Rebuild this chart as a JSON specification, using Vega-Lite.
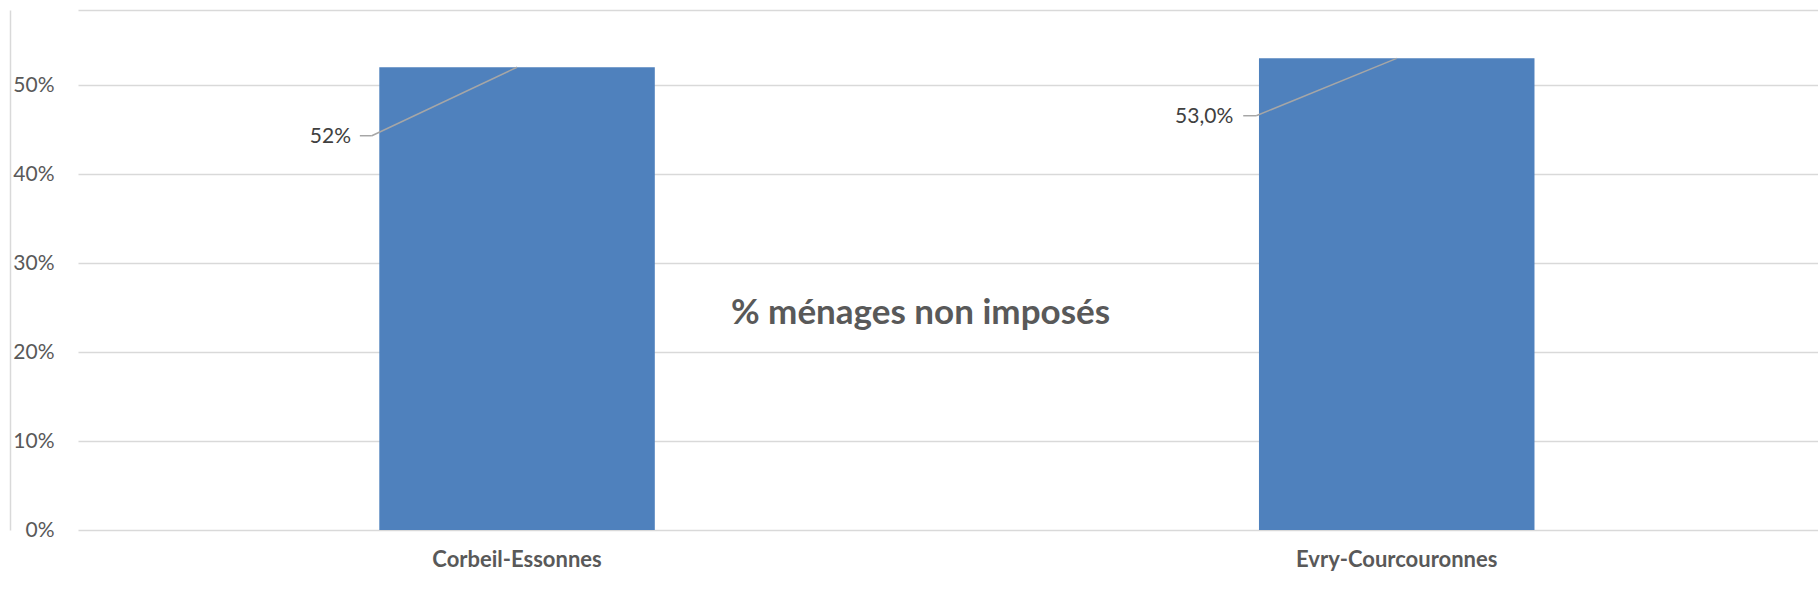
{
  "$schema": "https://vega.github.io/schema/vega-lite/v6.json",
  "width": 1740,
  "height": 520,
  "autosize": {"type": "none"},
  "padding": {"left": 78, "top": 10, "right": 0, "bottom": 78},
  "background": "white",
  "config": {"view": {"stroke": null}, "font": "Lato"},
  "title": {
    "text": "% ménages non imposés",
    "orient": "top",
    "anchor": "middle",
    "frame": "group",
    "offset": -349,
    "baseline": "alphabetic",
    "dx": -27.5,
    "font": "Lato",
    "fontSize": 35,
    "fontWeight": "bold",
    "color": "#595959"
  },
  "data": {
    "values": [
      {"commune": "Corbeil-Essonnes", "value": 0.52, "label": "52%"},
      {"commune": "Evry-Courcouronnes", "value": 0.53, "label": "53,0%"}
    ]
  },
  "layer": [
    {
      "mark": {"type": "bar", "color": "#4f81bd"},
      "encoding": {
        "x": {
          "field": "commune",
          "type": "nominal",
          "sort": null,
          "scale": {"paddingInner": 0.6868, "paddingOuter": 0.3324, "align": 0.5152},
          "axis": {
            "title": null,
            "domain": false,
            "ticks": false,
            "tickSize": 0,
            "labelAngle": 0,
            "labelPadding": 36,
            "labelLimit": 0,
            "labelBaseline": "alphabetic",
            "labelFont": "Lato",
            "labelFontSize": 22,
            "labelFontWeight": "bold",
            "labelColor": "#595959"
          }
        },
        "y": {
          "field": "value",
          "type": "quantitative",
          "scale": {"domain": [0, 0.5843], "nice": false, "zero": true},
          "axis": {
            "title": null,
            "values": [0, 0.1, 0.2, 0.3, 0.4, 0.5, 0.5843],
            "labelExpr": "datum.value > 0.55 ? '' : format(datum.value, '.0%')",
            "offset": 68,
            "domain": true,
            "domainColor": "#d9d9d9",
            "domainWidth": 1.5,
            "ticks": false,
            "tickSize": 0,
            "labelPadding": -44,
            "labelFont": "Lato",
            "labelFontSize": 21,
            "labelColor": "#595959",
            "labelBaseline": "middle",
            "grid": true,
            "gridColor": "#d9d9d9",
            "gridWidth": 1.5
          }
        }
      }
    },
    {
      "transform": [{"filter": "datum.commune == 'Corbeil-Essonnes'"}],
      "mark": {"type": "rule", "color": "#a6a6a6", "strokeWidth": 1.5, "x2Offset": -145.2, "y2Offset": 68.5},
      "encoding": {
        "x": {"field": "commune", "type": "nominal", "bandPosition": 0.5},
        "x2": {"field": "commune", "bandPosition": 0.5},
        "y": {"field": "value", "type": "quantitative"},
        "y2": {"field": "value"}
      }
    },
    {
      "transform": [{"filter": "datum.commune == 'Corbeil-Essonnes'"}],
      "mark": {"type": "rule", "color": "#a6a6a6", "strokeWidth": 1.5, "xOffset": -157.2, "x2Offset": -145.2, "yOffset": 68.5, "y2Offset": 68.5},
      "encoding": {
        "x": {"field": "commune", "type": "nominal", "bandPosition": 0.5},
        "x2": {"field": "commune", "bandPosition": 0.5},
        "y": {"field": "value", "type": "quantitative"},
        "y2": {"field": "value"}
      }
    },
    {
      "transform": [{"filter": "datum.commune == 'Evry-Courcouronnes'"}],
      "mark": {"type": "rule", "color": "#a6a6a6", "strokeWidth": 1.5, "x2Offset": -140.5, "y2Offset": 57.4},
      "encoding": {
        "x": {"field": "commune", "type": "nominal", "bandPosition": 0.5},
        "x2": {"field": "commune", "bandPosition": 0.5},
        "y": {"field": "value", "type": "quantitative"},
        "y2": {"field": "value"}
      }
    },
    {
      "transform": [{"filter": "datum.commune == 'Evry-Courcouronnes'"}],
      "mark": {"type": "rule", "color": "#a6a6a6", "strokeWidth": 1.5, "xOffset": -153.5, "x2Offset": -140.5, "yOffset": 57.4, "y2Offset": 57.4},
      "encoding": {
        "x": {"field": "commune", "type": "nominal", "bandPosition": 0.5},
        "x2": {"field": "commune", "bandPosition": 0.5},
        "y": {"field": "value", "type": "quantitative"},
        "y2": {"field": "value"}
      }
    },
    {
      "transform": [{"filter": "datum.commune == 'Corbeil-Essonnes'"}],
      "mark": {"type": "text", "align": "right", "baseline": "middle", "dx": -166, "dy": 69.8, "font": "Lato", "fontSize": 21, "color": "#404040"},
      "encoding": {
        "x": {"field": "commune", "type": "nominal", "bandPosition": 0.5},
        "y": {"field": "value", "type": "quantitative"},
        "text": {"field": "label"}
      }
    },
    {
      "transform": [{"filter": "datum.commune == 'Evry-Courcouronnes'"}],
      "mark": {"type": "text", "align": "right", "baseline": "middle", "dx": -163.5, "dy": 58.7, "font": "Lato", "fontSize": 21, "color": "#404040"},
      "encoding": {
        "x": {"field": "commune", "type": "nominal", "bandPosition": 0.5},
        "y": {"field": "value", "type": "quantitative"},
        "text": {"field": "label"}
      }
    }
  ]
}
